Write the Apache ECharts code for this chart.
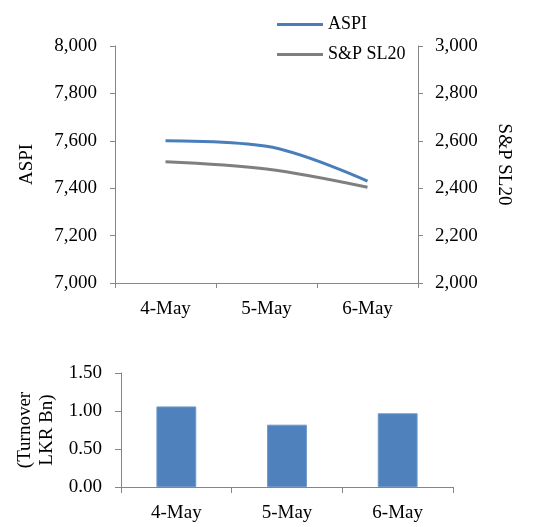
<!DOCTYPE html>
<html>
<head>
<meta charset="utf-8">
<script src="https://cdn.jsdelivr.net/npm/echarts@6/dist/echarts.min.js"></script>
<style>
  html, body { margin: 0; padding: 0; background: #fff; }
  #chart { width: 536px; height: 527px; }
</style>
</head>
<body>
<div id="chart"></div>
<script>
// Daily market summary: index levels and turnover
const days = ['4-May', '5-May', '6-May'];
const aspi = [7600, 7577, 7430];
const spSl20 = [2512, 2481, 2404];
const turnover = [1.06, 0.82, 0.97];

const FONT = 'Liberation Serif';
const AXIS_GREY = '#868686';
const TEXT = '#000';

const baseAxisLine = { show: true, lineStyle: { color: AXIS_GREY, width: 1 } };
const baseTick = { show: true, length: 5, lineStyle: { color: AXIS_GREY } };
const labelStyle = { color: TEXT, fontFamily: FONT, fontSize: 19 };
const thousands = v => v.toLocaleString('en-US');

const chart = echarts.init(document.getElementById('chart'), null, { renderer: 'canvas' });

chart.setOption({
  animation: false,
  backgroundColor: '#fff',
  legend: {
    orient: 'vertical',
    left: 272,
    top: 9,
    icon: 'rect',
    itemWidth: 46,
    itemHeight: 3,
    itemGap: 9,
    textStyle: { color: TEXT, fontFamily: FONT, fontSize: 18, lineHeight: 21 },
    data: ['ASPI', 'S&P SL20']
  },
  grid: [
    { left: 115, right: 118, top: 46, bottom: 244 },
    { left: 121, width: 332, top: 373, height: 114 }
  ],
  xAxis: [
    {
      gridIndex: 0, type: 'category', data: days, boundaryGap: true,
      axisLine: baseAxisLine,
      axisTick: { show: true, length: 5, lineStyle: { color: AXIS_GREY } },
      axisLabel: Object.assign({ margin: 17 }, labelStyle)
    },
    {
      gridIndex: 1, type: 'category', data: days, boundaryGap: true,
      axisLine: baseAxisLine,
      axisTick: { show: true, length: 6, lineStyle: { color: AXIS_GREY } },
      axisLabel: Object.assign({ margin: 17 }, labelStyle)
    }
  ],
  yAxis: [
    {
      gridIndex: 0, type: 'value', min: 7000, max: 8000, interval: 200,
      position: 'left',
      name: 'ASPI', nameLocation: 'middle', nameGap: 78, nameRotate: 90,
      nameTextStyle: { color: TEXT, fontFamily: FONT, fontSize: 19 },
      axisLine: baseAxisLine, axisTick: baseTick,
      splitLine: { show: false },
      axisLabel: Object.assign({ margin: 18, formatter: thousands }, labelStyle)
    },
    {
      gridIndex: 0, type: 'value', min: 2000, max: 3000, interval: 200,
      position: 'right',
      name: 'S&P SL20', nameLocation: 'middle', nameGap: 76, nameRotate: -90,
      nameTextStyle: { color: TEXT, fontFamily: FONT, fontSize: 19 },
      axisLine: baseAxisLine, axisTick: baseTick,
      splitLine: { show: false },
      axisLabel: Object.assign({ margin: 17, formatter: thousands }, labelStyle)
    },
    {
      gridIndex: 1, type: 'value', min: 0, max: 1.5, interval: 0.5,
      position: 'left',
      name: '(Turnover\nLKR Bn)', nameLocation: 'middle', nameGap: 62, nameRotate: 90,
      nameTextStyle: { color: TEXT, fontFamily: FONT, fontSize: 19, lineHeight: 22 },
      axisLine: baseAxisLine,
      axisTick: { show: true, length: 6, lineStyle: { color: AXIS_GREY } },
      splitLine: { show: false },
      axisLabel: Object.assign({ margin: 19, formatter: v => v.toFixed(2) }, labelStyle)
    }
  ],
  series: [
    {
      name: 'ASPI', type: 'line', xAxisIndex: 0, yAxisIndex: 0,
      data: aspi, smooth: 0.35, symbol: 'none',
      lineStyle: { color: '#4A7EBB', width: 3 },
      itemStyle: { color: '#4A7EBB' }
    },
    {
      name: 'S&P SL20', type: 'line', xAxisIndex: 0, yAxisIndex: 1,
      data: spSl20, smooth: 0.35, symbol: 'none',
      lineStyle: { color: '#7F7F7F', width: 3 },
      itemStyle: { color: '#7F7F7F' }
    },
    {
      name: 'Turnover', type: 'bar', xAxisIndex: 1, yAxisIndex: 2,
      data: turnover, barWidth: '36%',
      itemStyle: { color: '#4F81BD', borderColor: '#6E97C9', borderWidth: 1 }
    }
  ]
});
</script>
</body>
</html>
